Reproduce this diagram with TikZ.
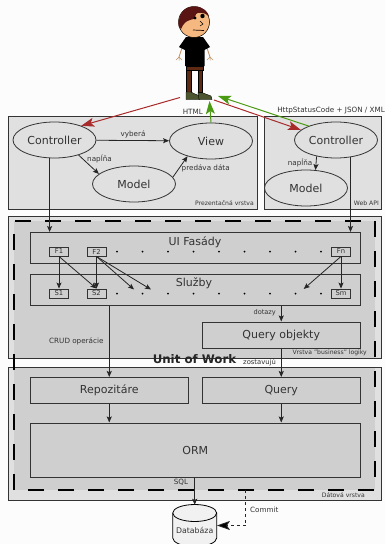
\documentclass[tikz,border=0pt]{standalone}
\usepackage{fontspec}
\setmainfont{DejaVu Sans}
\usetikzlibrary{arrows.meta,calc}
\definecolor{bgc}{HTML}{FCFCFC}
\definecolor{layerc}{HTML}{E0E0E0}
\definecolor{uowc}{HTML}{CFCFCF}
\definecolor{inkc}{HTML}{333333}
\definecolor{redc}{HTML}{A82A2A}
\definecolor{greenc}{HTML}{4A9A12}
\definecolor{skinc}{HTML}{F4B880}
\definecolor{hairc}{HTML}{5A1414}
\definecolor{beltc}{HTML}{5E2A14}
\definecolor{shoec}{HTML}{4C5530}
\usetikzlibrary{shapes.geometric}
\tikzset{
 layer/.style={draw=inkc,line width=1pt,fill=layerc},
 oval/.style={ellipse,draw=inkc,line width=.8pt,fill=layerc,minimum width=83pt,minimum height=36pt,inner sep=0pt,text=inkc,font=\fontsize{11}{13}\selectfont},
 pane/.style={draw=inkc,line width=1pt,fill=uowc,anchor=north west,inner sep=0pt,text=inkc,font=\fontsize{11}{13}\selectfont},
 panetitle/.style={text=inkc,font=\fontsize{11}{13}\selectfont},
 tag/.style={draw=inkc,line width=.9pt,fill=uowc,minimum width=19pt,minimum height=9pt,inner sep=0pt,text=inkc,font=\fontsize{6.8}{7}\selectfont},
 conn/.style={draw=black!85,line width=.8pt,-{Stealth[length=6pt,width=5pt,inset=1.2pt]}},
 label/.style={text=inkc,inner sep=0pt,font=\fontsize{7.2}{9}\selectfont},
 small/.style={text=inkc,inner sep=0pt,font=\fontsize{6.1}{7}\selectfont},
 redarrow/.style={draw=redc,line width=1pt,-{Stealth[length=13pt,width=9pt,inset=3pt]}},
 greenarrow/.style={draw=greenc,line width=1pt,-{Stealth[length=13pt,width=9pt,inset=3pt]}},
 dotp/.style={circle,fill=black,inner sep=0pt,minimum size=2pt},
}
\begin{document}
\begin{tikzpicture}[x=1pt,y=-1pt]
\useasboundingbox (0,0) rectangle (385,544);
\fill[bgc] (0,0) rectangle (385,544);
% layers
\draw[layer] (8,116.5) rectangle (257,209);
\draw[layer] (264,116.5) rectangle (381,209);
\draw[layer] (8,216.5) rectangle (381,358.5);
\draw[layer] (8,367) rectangle (381,500);
\fill[uowc] (14,221) rectangle (375,358);
\fill[uowc] (14,367.5) rectangle (375,490);
\draw[black,line width=1.3pt,dash pattern=on 16pt off 14pt] (14,490) -- (14,221) -- (375,221) -- (375,490) -- cycle;
% person
\fill[skinc] (189,32) rectangle (199,40);
\draw[skinc!80!black,line width=.8pt] (182,48) -- (179,57) (207,48) -- (210,57);
\draw[skinc!80!black,line width=.5pt] (179,57) -- (176,60) (179,57) -- (179,60.5) (179,57) -- (182,60) (210,57) -- (207,60) (210,57) -- (210,60.5) (210,57) -- (213,60);
\fill[beltc,draw=black,line width=.3pt] (186,66) rectangle (203.5,70);
\fill[beltc,draw=black,line width=.4pt] (186.5,70) rectangle (191,92) (198,70) rectangle (202.5,92);
\fill[black] (186,37) -- (203,37) -- (210,47) -- (204.5,50) -- (204.5,66) -- (185,66) -- (185,50) -- (179,47) -- cycle;
\draw[black,line width=.5pt,fill=skinc] (194,22) circle (15.5);
\fill[hairc] (178.5,26) .. controls (178,10) and (188,6) .. (195,6.5) .. controls (203,6.5) and (208,12) .. (209,16) .. controls (204,12) and (198,12) .. (196,14) .. controls (195,19) and (193,20) .. (190,20) .. controls (186,21) and (183,24) .. (181,29) -- cycle;
\fill[black] (202.5,16) circle (2.2) (195,18) circle (1.6);
\draw[black,line width=.5pt] (200,21) -- (203,24) -- (200,26);
\draw[black!70!hairc,line width=.7pt] (193,30) -- (204,30.5);
\fill[shoec,draw=black,line width=.4pt] (186,92) -- (191,92) -- (195,94) -- (200,96) -- (200,99.5) -- (186,99.5) -- cycle;
\fill[shoec,draw=black,line width=.4pt] (198,92.5) -- (203,93) -- (211,96) -- (212,99.5) -- (199,99.5) -- cycle;
\coordinate (personL) at (180,97.5);
\coordinate (personR) at (214,100);
\coordinate (personG) at (218,96);
\coordinate (personB) at (209.5,101);
% ovals
\node[oval] (c1) at (54.5,140) {Controller};
\node[oval] (v1) at (211,141) {View};
\node[oval] (m1) at (134,184) {Model};
\node[oval] (c2) at (336,140) {Controller};
\node[oval] (m2) at (306,188) {Model};
% panes
\node[pane,minimum width=330.5pt,minimum height=31pt] (ui) at (29.5,232) {};
\node[panetitle] at (195,242.5) {UI Fasády};
\node[pane,minimum width=330.5pt,minimum height=31pt] (sl) at (29.5,274) {};
\node[panetitle] at (194,283) {Služby};
\node[pane,minimum width=158.5pt,minimum height=26pt] (qo) at (201.5,321.5) {Query objekty};
\node[pane,minimum width=158.5pt,minimum height=26pt] (re) at (29.5,377) {Repozitáre};
\node[pane,minimum width=158.5pt,minimum height=26pt] (qu) at (201.5,377) {Query};
\node[pane,minimum width=330.5pt,minimum height=54pt] (orm) at (29.5,422.5) {ORM};
% tags
\node[tag] (f1) at (59,251.5) {F1};
\node[tag] (f2) at (96.5,251.5) {F2};
\node[tag] (fn) at (341,251.5) {Fn};
\node[tag] (s1) at (59,293.5) {S1};
\node[tag] (s2) at (96.5,293.5) {S2};
\node[tag] (sm) at (341,293.5) {Sm};
\foreach \i in {0,...,8} {
 \node[dotp] at ({117+25.5*\i},251.5) {};
 \node[dotp] at ({117+25.5*\i},293.5) {};
}
% database
\draw[black,line width=.8pt,fill=layerc!40!bgc] (172.7,513) -- (172.7,538) arc[start angle=180,end angle=360,x radius=22,y radius=-8.5] -- (216.7,513);
\draw[black,line width=.8pt,fill=layerc!40!bgc] (194.7,513) ellipse[x radius=22,y radius=8.5];
\node[inner sep=0pt,minimum width=44pt,minimum height=39pt,text=inkc,font=\fontsize{7.8}{9}\selectfont,text depth=0pt] (db) at (194.7,524.5) {};
\node[text=inkc,font=\fontsize{7.8}{9}\selectfont] at (194.7,530) {Databáza};
% free ends
\coordinate (e1) at (134,289.5);
\coordinate (e2) at (151,289.5);
\coordinate (e3) at (303.7,289);
\coordinate (cstart) at (245.5,490);
\coordinate (cbend) at (245.5,525.5);
% connectors
\draw[conn] (c1) -- (v1);
\draw[conn] (c1.-32) -- (m1.164);
\draw[conn] (m1.10) -- (v1.-147);
\draw[conn] (c2.-140) -- (m2.62);
\draw[conn] (c1.-105) -- (c1.-105 |- ui.north);
\draw[conn] (c2.-50) -- (c2.-50 |- ui.north);
\draw[conn] (f1) -- (s1);
\draw[conn] (f1.south) -- (s2.north);
\draw[conn] (f2) -- (s2);
\draw[conn] (f2.south) -- (e1);
\draw[conn] (f2.south) -- (e2);
\draw[conn] (fn.south) -- (e3);
\draw[conn] (fn) -- (sm);
\draw[conn] (re.north |- sl.south) -- (re.north);
\draw[conn] (qo.north |- sl.south) -- (qo.north);
\draw[conn] (qo) -- (qu);
\draw[conn] (re) -- (re.south |- orm.north);
\draw[conn] (qu) -- (qu.south |- orm.north);
\draw[conn] (orm.south -| db.north) -- (db.north);
\draw[black!85,line width=.8pt,dashed] (cstart) -- (cbend);
\draw[black!85,line width=.8pt,dashed,-{Stealth[length=13pt,width=9pt,inset=3pt,fill=black]}] (cbend) -- (db.east |- cbend);
\draw[redarrow] (personL) -- (c1.28);
\draw[redarrow] (personR) -- (c2.164);
\draw[greenarrow] (c2.153) -- (personG);
\draw[greenarrow] (v1.90) -- (personB);
% labels
\node[label] at (133,134.5) {vyberá};
\node[label,anchor=west] at (87,158.5) {napĺňa};
\node[label,anchor=west] at (181.5,168.5) {predáva dáta};
\node[label,anchor=east] at (203,111.5) {HTML};
\node[label,anchor=east] at (385,110.5) {HttpStatusCode + JSON / XML};
\node[label,anchor=east] at (312.5,162.5) {napĺňa};
\node[small,anchor=east] at (254,203.5) {Prezentačná vrstva};
\node[small,anchor=east] at (379,203.5) {Web API};
\node[label,anchor=west] at (49,341) {CRUD operácie};
\node[small,anchor=east,font=\fontsize{6.6}{8}\selectfont] at (276,313) {dotazy};
\node[small,anchor=east] at (367,352.5) {Vrstva "business" logiky};
\node[font=\bfseries\fontsize{11.8}{14}\selectfont,text=black!85] at (194.5,359) {Unit of Work};
\node[small,anchor=west,font=\fontsize{6.8}{8}\selectfont] at (243,362) {zostavujú};
\node[label] at (181,482) {SQL};
\node[small,anchor=east] at (365,495.5) {Dátová vrstva};
\node[label,anchor=west] at (250,509.5) {Commit};
\end{tikzpicture}
\end{document}
